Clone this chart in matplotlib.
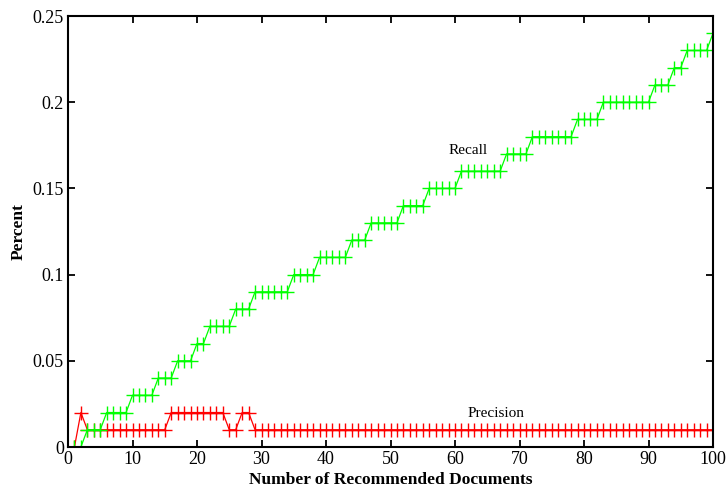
import numpy as np
import matplotlib
matplotlib.use('Agg')
import matplotlib.pyplot as plt
from matplotlib.ticker import FixedLocator, FixedFormatter

# number of recommended documents
n_docs = np.arange(1, 101)

# recall level and how many consecutive n it holds for
recall_levels = [0.0, 0.01, 0.02, 0.03, 0.04, 0.05, 0.06, 0.07, 0.08, 0.09,
                 0.10, 0.11, 0.12, 0.13, 0.14, 0.15, 0.16, 0.17, 0.18, 0.19,
                 0.20, 0.21, 0.22, 0.23, 0.24]
recall_runs = [2, 3, 4, 4, 3, 3, 2, 4, 3, 6,
               4, 5, 3, 5, 4, 5, 7, 4, 7, 4,
               8, 3, 2, 4, 1]
recall = np.repeat(recall_levels, recall_runs)

precision_levels = [0.0, 0.02, 0.01, 0.02, 0.01, 0.02, 0.01]
precision_runs = [1, 1, 13, 9, 2, 2, 72]
precision = np.repeat(precision_levels, precision_runs)

y_ticks = [0, 0.05, 0.1, 0.15, 0.2, 0.25]
y_tick_labels = ['0', '0.05', '0.1', '0.15', '0.2', '0.25']
x_ticks = list(range(0, 101, 10))

plt.rcParams['font.family'] = ['Liberation Serif', 'DejaVu Serif']

fig = plt.figure(figsize=(7.27, 4.90), dpi=100)
ax = fig.add_axes([68 / 727, 1 - 447 / 490, 645 / 727, 431 / 490])

# precision first so recall sits on top where they overlap
ax.plot(n_docs, precision, color=(1, 0, 0), lw=0.9, marker='+', ms=10, mew=1.0)
ax.plot(n_docs, recall, color=(0, 1, 0), lw=0.9, marker='+', ms=10, mew=1.0)

ax.text(59, 0.172, 'Recall', fontsize=11, va='center', ha='left')
ax.text(62, 0.0197, 'Precision', fontsize=11, va='center', ha='left')

ax.set_xlim(0, 100)
ax.set_ylim(0, 0.25)
ax.xaxis.set_major_locator(FixedLocator(x_ticks))
ax.yaxis.set_major_locator(FixedLocator(y_ticks))
ax.yaxis.set_major_formatter(FixedFormatter(y_tick_labels))
ax.tick_params(direction='in', length=5, width=1.3, top=True, right=True,
               labelsize=13, pad=3)
for s in ax.spines.values():
    s.set_linewidth(1.5)

ax.set_xlabel('Number of Recommended Documents', fontsize=12.5,
              fontweight='bold', labelpad=3)
ax.set_ylabel('Percent', fontsize=12.5, fontweight='bold', labelpad=4)

fig.savefig('out.png', dpi=100)
